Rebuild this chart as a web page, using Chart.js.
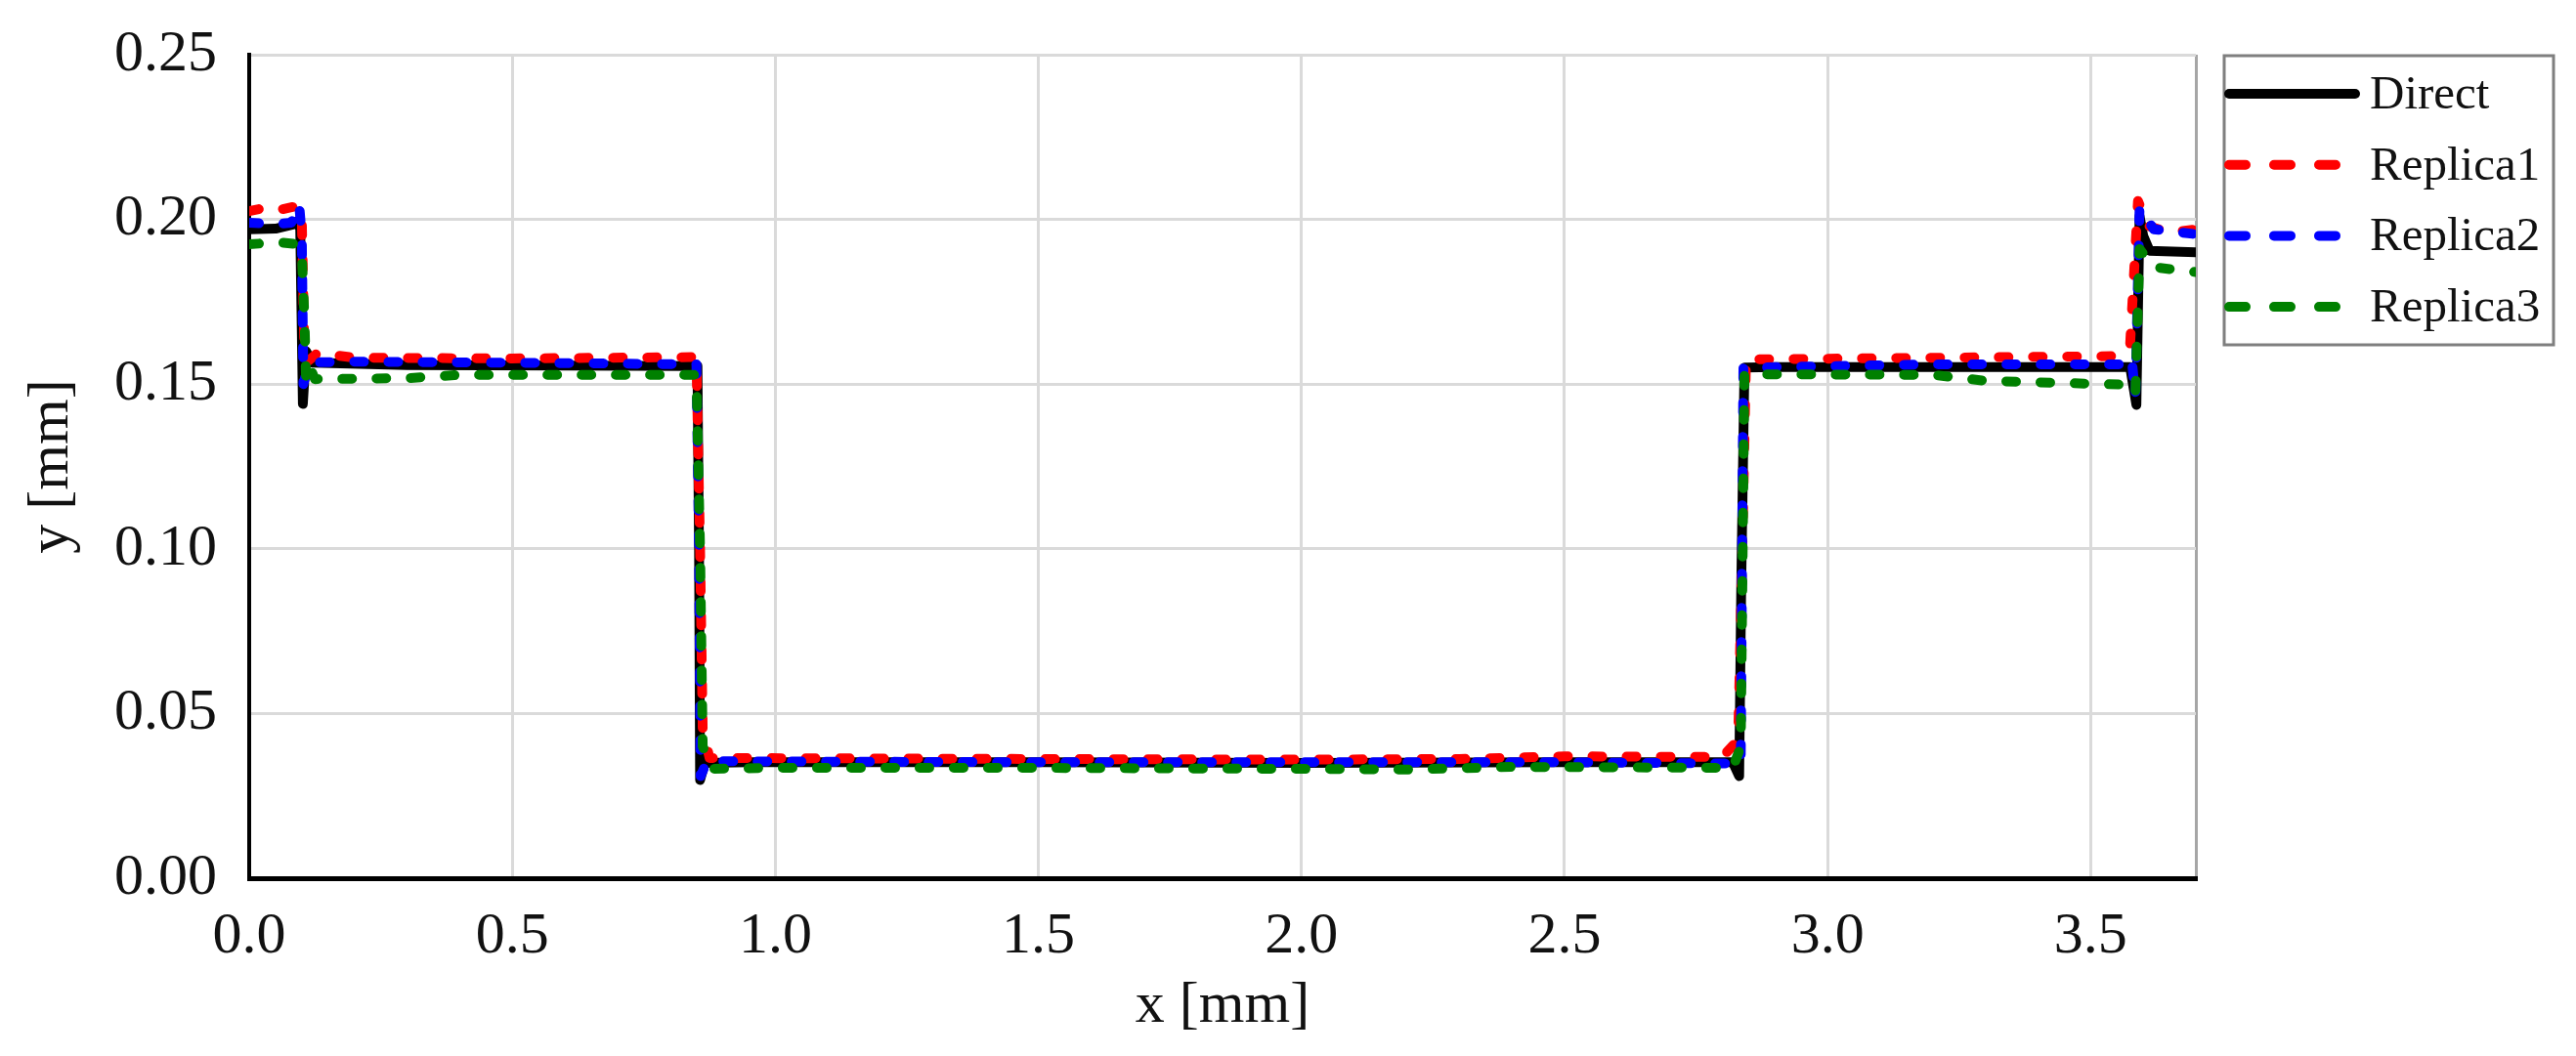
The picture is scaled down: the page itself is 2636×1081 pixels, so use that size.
<!DOCTYPE html>
<html lang="en">
  <head>
    <meta charset="UTF-8" />
    <title>profile x-y</title>
    <style>
      body {
        margin: 0;
        background: #ffffff;
      }
      .wrap {
        width: 2636px;
        height: 1081px;
      }
    </style>
    <script src="https://cdn.jsdelivr.net/npm/chart.js"></script>
  </head>
  <body>
    <div class="wrap">
      <canvas id="profileChart" width="2636" height="1081"></canvas>
    </div>

    <script>
      // values (x and y in mm)
      const directX = [0, 0.05, 0.085, 0.092, 0.097, 0.102, 0.108, 0.12, 0.3, 0.6, 0.852, 0.855, 0.857, 0.866, 0.95, 1.5, 2.0, 2.5, 2.82, 2.832, 2.836, 2.842, 2.9, 3.3, 3.575, 3.587, 3.593, 3.6, 3.612, 3.7];
      const directY = [0.197, 0.1972, 0.1985, 0.1995, 0.197, 0.144, 0.16, 0.1565, 0.1558, 0.1556, 0.1555, 0.1, 0.0298, 0.035, 0.0352, 0.0352, 0.035, 0.0352, 0.0352, 0.031, 0.09, 0.155, 0.1552, 0.1552, 0.1552, 0.1437, 0.201, 0.195, 0.1905, 0.19];

      const replica1X = [0, 0.03, 0.06, 0.09, 0.1, 0.105, 0.112, 0.13, 0.2, 0.5, 0.85, 0.857, 0.862, 0.875, 1.5, 2.0, 2.3, 2.5, 2.8, 2.83, 2.838, 2.845, 3.2, 3.55, 3.575, 3.59, 3.61, 3.65, 3.7];
      const replica1Y = [0.2025, 0.2035, 0.203, 0.204, 0.2, 0.16, 0.157, 0.1595, 0.158, 0.1578, 0.1582, 0.1, 0.045, 0.0365, 0.0362, 0.036, 0.0362, 0.037, 0.0368, 0.042, 0.1, 0.1575, 0.158, 0.1585, 0.162, 0.2056, 0.198, 0.196, 0.197];

      const replica2X = [0, 0.05, 0.08, 0.095, 0.1, 0.103, 0.108, 0.118, 0.2, 0.5, 0.85, 0.855, 0.858, 0.87, 1.5, 2.5, 2.82, 2.835, 2.84, 3.2, 3.56, 3.578, 3.585, 3.593, 3.62, 3.7];
      const replica2Y = [0.199, 0.1985, 0.199, 0.2045, 0.195, 0.15, 0.153, 0.1566, 0.1568, 0.1565, 0.156, 0.1, 0.031, 0.0355, 0.0352, 0.0352, 0.0348, 0.035, 0.155, 0.156, 0.156, 0.158, 0.1462, 0.2035, 0.197, 0.1955];

      const replica3X = [0, 0.06, 0.09, 0.1, 0.105, 0.108, 0.113, 0.125, 0.3, 0.4, 0.85, 0.857, 0.862, 0.88, 1.0, 1.5, 2.0, 2.2, 2.4, 2.82, 2.835, 2.842, 3.2, 3.3, 3.57, 3.585, 3.593, 3.62, 3.7];
      const replica3Y = [0.1925, 0.193, 0.1925, 0.19, 0.17, 0.152, 0.156, 0.1515, 0.1518, 0.1528, 0.1528, 0.1, 0.04, 0.0332, 0.0335, 0.0335, 0.0332, 0.033, 0.0338, 0.0335, 0.04, 0.153, 0.1528, 0.151, 0.1498, 0.147, 0.191, 0.1855, 0.184];

      const seriesNames = ["Direct", "Replica1", "Replica2", "Replica3"];
      const seriesColors = ["#000000", "#ff0000", "#0000ff", "#008000"];
      const xTicks = [0, 0.5, 1.0, 1.5, 2.0, 2.5, 3.0, 3.5];

      const toPoints = (xs, ys) => xs.map((x, i) => ({ x: x, y: ys[i] }));
      const seriesData = [
        toPoints(directX, directY),
        toPoints(replica1X, replica1Y),
        toPoints(replica2X, replica2Y),
        toPoints(replica3X, replica3Y),
      ];

      const serif = "'Liberation Serif', 'DejaVu Serif', serif";

      // boxed legend drawn at the right side, like the original figure
      const boxLegend = {
        id: "boxLegend",
        afterDraw(chart) {
          const ctx = chart.ctx;
          const left = 2276, top = 57, right = 2613, bottom = 353;
          ctx.save();
          ctx.strokeStyle = "#7f7f7f";
          ctx.lineWidth = 3;
          ctx.strokeRect(left, top, right - left, bottom - top);
          chart.data.datasets.forEach((ds, i) => {
            const y = 96 + i * 72.7;
            ctx.beginPath();
            ctx.strokeStyle = ds.borderColor;
            ctx.lineWidth = ds.borderWidth;
            ctx.lineCap = "round";
            ctx.setLineDash(i === 0 ? [] : [17, 29]);
            ctx.moveTo(left + 5, y);
            ctx.lineTo(left + 134, y);
            ctx.stroke();
            ctx.setLineDash([]);
            ctx.fillStyle = "#111111";
            ctx.font = "49px " + serif;
            ctx.textAlign = "left";
            ctx.textBaseline = "middle";
            ctx.fillText(ds.label, left + 149, y + 2);
          });
          ctx.restore();
        },
      };

      const ctx = document.getElementById("profileChart").getContext("2d");

      new Chart(ctx, {
        type: "line",
        data: {
          datasets: seriesNames.map((name, i) => ({
            label: name,
            data: seriesData[i],
            borderColor: seriesColors[i],
            backgroundColor: seriesColors[i],
            borderWidth: 10,
            borderDash: i === 0 ? [] : [10, 25],
            borderCapStyle: "round",
            borderJoinStyle: "round",
            pointRadius: 0,
            tension: 0,
            fill: false,
            order: 4 - i,
          })),
        },
        options: {
          responsive: false,
          animation: false,
          layout: { padding: { left: 0, right: 389, top: 56, bottom: 0 } },
          plugins: {
            legend: { display: false },
            tooltip: { enabled: false },
          },
          scales: {
            x: {
              type: "linear",
              min: 0,
              max: 3.7,
              afterFit: (scale) => {
                scale.height = 182;
                scale.paddingLeft = 0;
                scale.paddingRight = 0;
              },
              afterBuildTicks: (scale) => {
                scale.ticks = xTicks.concat([3.7]).map((v) => ({ value: v }));
              },
              ticks: {
                autoSkip: false,
                maxRotation: 0,
                padding: 24,
                color: "#111111",
                font: { family: serif, size: 60 },
                callback: (v) => (xTicks.includes(v) ? v.toFixed(1) : ""),
              },
              grid: {
                drawTicks: false,
                lineWidth: 3,
                color: (c) => (c.tick && c.tick.value === 3.7 ? "#a6a6a6" : "#dadada"),
              },
              border: { color: "#000000", width: 5 },
              title: {
                display: true,
                text: "x [mm]",
                color: "#111111",
                font: { family: serif, size: 60, lineHeight: 1 },
                padding: { top: 0, bottom: 21 },
              },
            },
            y: {
              min: 0,
              max: 0.25,
              afterFit: (scale) => {
                scale.width = 255;
                scale.paddingTop = 0;
                scale.paddingBottom = 0;
              },
              ticks: {
                stepSize: 0.05,
                padding: 33,
                color: "#111111",
                font: { family: serif, size: 60 },
                callback: (v) => v.toFixed(2),
              },
              grid: {
                drawTicks: false,
                lineWidth: 3,
                color: "#dadada",
              },
              border: { color: "#000000", width: 4 },
              title: {
                display: true,
                text: "y [mm]",
                color: "#111111",
                font: { family: serif, size: 60, lineHeight: 1 },
                padding: { top: 23, bottom: 0 },
              },
            },
          },
        },
        plugins: [boxLegend],
      });
    </script>
  </body>
</html>
